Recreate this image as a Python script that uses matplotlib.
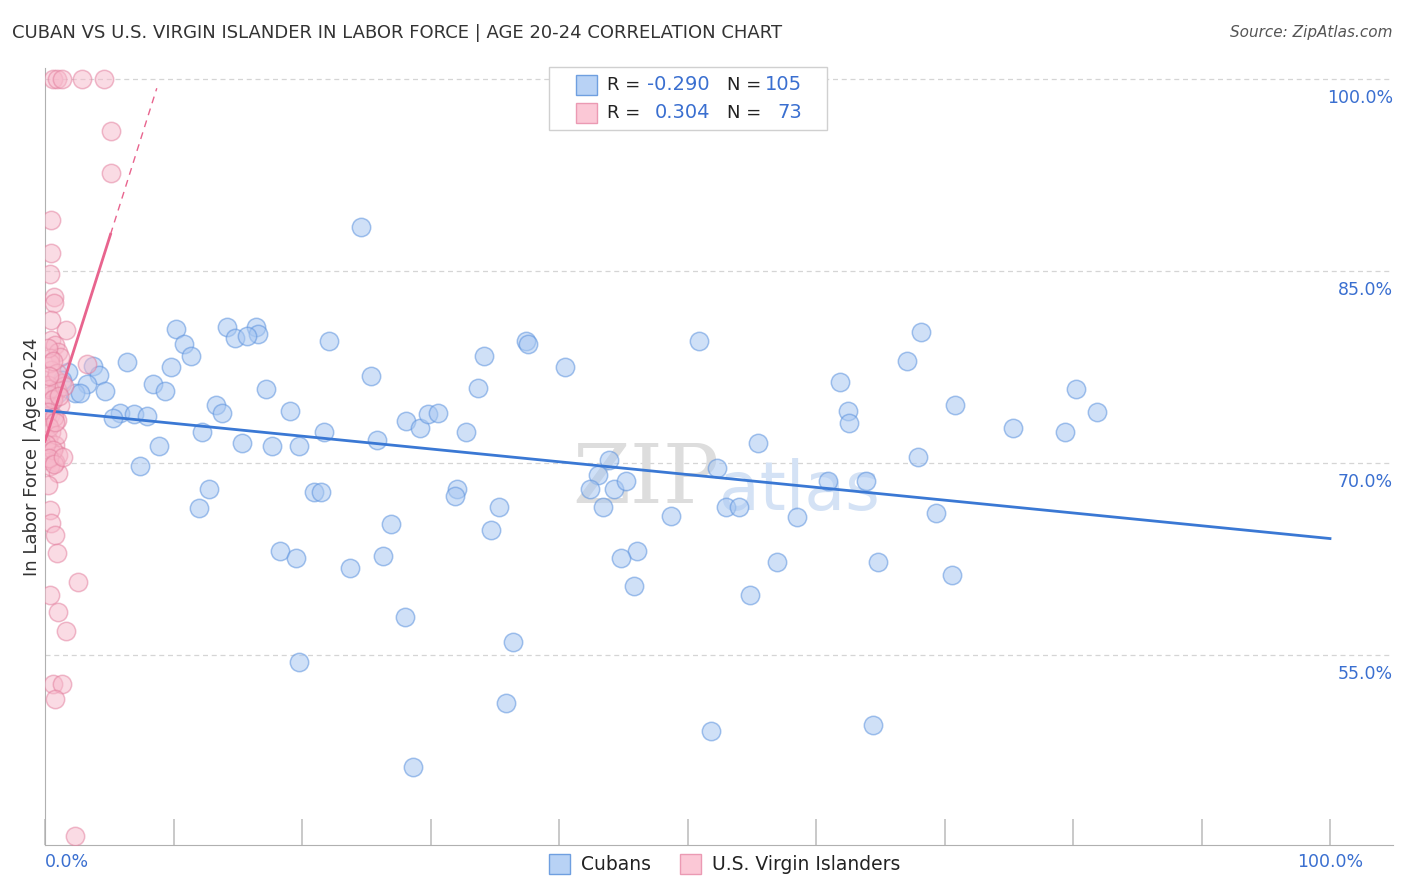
import matplotlib.pyplot as plt
from matplotlib.patches import Rectangle

# Cubans (x = share %, y = in labor force %)
cuban_x = [24.6, 10.2, 14.2, 16.4, 16.6, 14.8, 15.7, 10.8, 11.4, 22.1,
           6.4, 9.8, 3.7, 4.2, 1.8, 3.3, 8.4, 2.3, 2.7, 4.7,
           9.3, 17.2, 25.4, 34.2, 37.4, 37.6, 40.5, 33.7, 50.9, 68.2,
           67.1, 61.9, 80.2, 62.5, 62.6, 70.8, 81.9, 75.3, 79.4, 67.9,
           52.3, 60.9, 63.9, 53.0, 54.0, 58.5, 69.3, 48.7, 5.8, 6.9,
           7.9, 5.3, 13.3, 13.8, 19.1, 28.1, 29.2, 29.8, 30.6, 12.2,
           21.7, 25.8, 32.8, 8.9, 15.3, 17.7, 19.8, 7.4, 43.9, 43.0,
           55.5, 12.8, 20.9, 21.5, 32.1, 31.9, 42.4, 44.3, 45.2, 12.0,
           35.3, 43.4, 26.9, 34.7, 18.3, 19.5, 26.3, 46.1, 44.8, 23.7,
           57.0, 64.8, 70.6, 45.8, 54.9, 28.0, 36.4, 19.8, 35.9, 51.8,
           64.4, 28.6, 1.0, 0.4, 1.3]
cuban_y = [88.4, 80.5, 80.6, 80.6, 80.1, 79.8, 79.9, 79.3, 78.4, 79.5,
           77.9, 77.5, 77.6, 76.9, 77.1, 76.2, 76.2, 75.5, 75.5, 75.6,
           75.6, 75.8, 76.8, 78.4, 79.5, 79.3, 77.5, 75.9, 79.5, 80.2,
           78.0, 76.3, 75.8, 74.1, 73.1, 74.5, 74.0, 72.7, 72.4, 70.5,
           69.6, 68.6, 68.6, 66.6, 66.6, 65.8, 66.1, 65.9, 73.9, 73.8,
           73.7, 73.5, 74.5, 73.9, 74.1, 73.3, 72.7, 73.8, 73.9, 72.4,
           72.4, 71.8, 72.4, 71.3, 71.6, 71.3, 71.3, 69.8, 70.2, 69.1,
           71.6, 68.0, 67.7, 67.7, 68.0, 67.4, 68.0, 68.0, 68.6, 66.5,
           66.6, 66.6, 65.2, 64.8, 63.1, 62.6, 62.7, 63.1, 62.6, 61.8,
           62.3, 62.3, 61.25, 60.4, 59.7, 58.0, 56.0, 54.45, 51.25, 49.1,
           49.5, 46.25, 75.5, 74.5, 76.5]

# U.S. Virgin Islanders
vi_x = [0.6, 0.9, 1.3, 2.9, 4.6, 5.1, 5.1, 0.5, 0.5, 0.4,
        0.7, 0.7, 0.5, 1.6, 0.5, 0.8, 1.0, 1.2, 0.4, 3.3,
        0.5, 0.8, 1.3, 0.2, 0.9, 0.4, 0.6, 0.2, 1.2, 0.4,
        0.9, 0.2, 0.5, 0.2, 0.8, 0.5, 1.0, 0.2, 0.8, 0.4,
        1.0, 0.2, 0.4, 0.5, 0.8, 0.9, 2.6, 0.4, 1.0, 1.6,
        0.6, 1.3, 0.8, 2.3, 0.3, 0.6, 0.2, 0.7, 0.3, 0.9,
        0.1, 0.6, 0.3, 0.7, 1.5, 1.1, 0.4, 0.9, 0.2, 0.6,
        1.4, 0.3, 0.8]
vi_y = [100.0, 100.0, 100.0, 100.0, 100.0, 95.9, 92.65, 89.0, 86.4, 84.8,
        83.0, 82.5, 81.2, 80.4, 79.6, 79.2, 78.7, 78.3, 78.2, 77.7,
        77.3, 76.6, 76.25, 76.1, 75.7, 75.3, 74.9, 74.5, 74.5, 73.75,
        73.4, 73.0, 72.4, 71.8, 71.4, 70.9, 70.6, 70.2, 70.1, 69.8,
        69.2, 68.3, 66.3, 65.3, 64.4, 63.0, 60.7, 59.7, 58.4, 56.9,
        52.7, 52.7, 51.6, 40.9, 75.8, 75.0, 74.0, 73.6, 72.8, 72.2,
        71.5, 71.0, 70.4, 69.9, 76.0, 75.2, 77.8, 77.0, 79.0, 78.0,
        70.5, 76.8, 73.2]

# trend lines (from the chart)
cuban_fit = (74.1, 64.1)          # y at x=0 and x=100
vi_a, vi_b = 71.7, 3.17           # y = a + b*x
vi_solid_end, vi_dash_end = 5.1, 8.7

grid_vals = [55, 70, 85, 100]
grid_labels = ['55.0%', '70.0%', '85.0%', '100.0%']

BLUE = '#3a78d4'
TEXT_BLUE = '#3a6fd0'

fig = plt.figure(figsize=(14.06, 8.92), dpi=100)
ax = fig.add_axes([45 / 1406, 1 - 845 / 892, 1348 / 1406, 777 / 892])
ax.set_xlim(0, 1348 / 12.85)
ax.set_ylim(40.16, 100.86)

for g, lab in zip(grid_vals, grid_labels):
    ax.axhline(g, color='#d5d5d5', lw=0.9, ls=(0, (4, 3)), zorder=0)
    ax.text(1, g - 0.75, lab, transform=ax.get_yaxis_transform(),
            ha='right', va='top', color=TEXT_BLUE, fontsize=12.5)

ax.scatter(cuban_x, cuban_y, s=175, facecolor='#a9c8f2', edgecolor='#5d93de',
           alpha=0.55, lw=1.1, zorder=3)
ax.scatter(vi_x, vi_y, s=175, facecolor='#f7b9cb', edgecolor='#e27b9b',
           alpha=0.5, lw=1.1, zorder=3)

ax.plot([0, 100], list(cuban_fit), color=BLUE, lw=2, zorder=4)
ax.plot([0, vi_solid_end], [vi_a, vi_a + vi_b * vi_solid_end], color='#e8648e', lw=2, zorder=4)
ax.plot([vi_solid_end, vi_dash_end], [vi_a + vi_b * vi_solid_end, vi_a + vi_b * vi_dash_end],
        color='#e8648e', lw=1, ls=(0, (5, 4)), zorder=4)

for s in ['top', 'right']:
    ax.spines[s].set_visible(False)
for s in ['left', 'bottom']:
    ax.spines[s].set_color('#b0b0b0')
ax.set_xticks(range(0, 101, 10))
ax.set_xticklabels([])
ax.tick_params(axis='x', direction='in', length=19, color='#c0c0c0', width=1.2)
ax.set_yticks([])

ax.text(0, -0.01, '0.0%', transform=ax.get_xaxis_transform(), ha='left', va='top',
        color=TEXT_BLUE, fontsize=12.5)
ax.text(100, -0.01, '100.0%', transform=ax.get_xaxis_transform(), ha='center', va='top',
        color=TEXT_BLUE, fontsize=12.5)
ax.set_ylabel('In Labor Force | Age 20-24', fontsize=13, color='#333333', labelpad=3)

# watermark
ax.text(0.5, 0.47, 'ZIP', transform=ax.transAxes, ha='right', va='center',
        fontsize=60, color='#dddddd', family='DejaVu Serif', zorder=1)
ax.text(0.5, 0.455, 'atlas', transform=ax.transAxes, ha='left', va='center',
        fontsize=48, color='#d4e2f5', zorder=1)

fig.text(12 / 1406, 1 - 33 / 892, 'CUBAN VS U.S. VIRGIN ISLANDER IN LABOR FORCE | AGE 20-24 CORRELATION CHART',
         ha='left', va='center', fontsize=13, color='#333333')
fig.text(1393 / 1406, 1 - 33 / 892, 'Source: ZipAtlas.com', ha='right', va='center',
         fontsize=11, color='#555555', style='italic')

# stats legend box
fig.patches.append(Rectangle((549 / 1406, 1 - 130 / 892), 278 / 1406, 63 / 892,
                             transform=fig.transFigure, fc='white', ec='#d0d0d0', lw=1))
rows = [('#b8d2f5', '#6f9fe0', '-0.290', '105', 85), ('#fbc8d6', '#eb9ab3', '0.304', '73', 113)]
for fc, ec, r, n, py in rows:
    y = 1 - py / 892
    fig.patches.append(Rectangle((576 / 1406, y - 10 / 892), 21 / 1406, 20 / 892,
                                 transform=fig.transFigure, fc=fc, ec=ec, lw=1))
    fig.text(607 / 1406, y, 'R =', ha='left', va='center', fontsize=13, color='#222222')
    fig.text(710 / 1406, y, r, ha='right', va='center', fontsize=14, color=TEXT_BLUE)
    fig.text(727 / 1406, y, 'N =', ha='left', va='center', fontsize=13, color='#222222')
    fig.text(802 / 1406, y, n, ha='right', va='center', fontsize=14, color=TEXT_BLUE)

# bottom legend
for fc, ec, label, px in [('#b8d2f5', '#6f9fe0', 'Cubans', 549), ('#fbc8d6', '#eb9ab3', 'U.S. Virgin Islanders', 680)]:
    y = 1 - 864 / 892
    fig.patches.append(Rectangle((px / 1406, y - 10 / 892), 21 / 1406, 20 / 892,
                                 transform=fig.transFigure, fc=fc, ec=ec, lw=1))
    fig.text((px + 32) / 1406, y, label, ha='left', va='center', fontsize=13.5, color='#222222')

fig.savefig('out.png', dpi=100)
